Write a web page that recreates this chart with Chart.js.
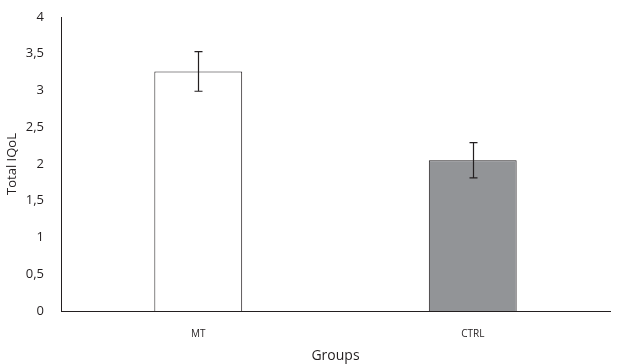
<!DOCTYPE html>
<html>
<head>
<meta charset="utf-8">
<script src="https://cdn.jsdelivr.net/npm/chart.js@4"></script>
<style>
  html, body { margin: 0; padding: 0; background: #fff; }
  #wrap { width: 631px; height: 364px; }
</style>
</head>
<body>
<div id="wrap"><canvas id="qolChart" width="631" height="364"></canvas></div>
<script>
const groups = ["MT", "CTRL"];
const meanScores = [3.26, 2.05];
const errScores = [0.27, 0.24];
const yTicks = [0, 0.5, 1, 1.5, 2, 2.5, 3, 3.5, 4];

const ink = "#231f20";

// draws the +/- error whiskers on each bar
const errorBars = {
  id: "errorBars",
  afterDatasetsDraw(chart) {
    const ctx = chart.ctx;
    const meta = chart.getDatasetMeta(0);
    const y = chart.scales.y;
    ctx.save();
    ctx.strokeStyle = ink;
    ctx.lineWidth = 1.2;
    meta.data.forEach((bar, i) => {
      const x = Math.round(bar.x) + 0.5;
      const top = y.getPixelForValue(meanScores[i] + errScores[i]);
      const bot = y.getPixelForValue(meanScores[i] - errScores[i]);
      ctx.beginPath();
      ctx.moveTo(x, top);
      ctx.lineTo(x, bot);
      ctx.moveTo(x - 4, top);
      ctx.lineTo(x + 4, top);
      ctx.moveTo(x - 4, bot);
      ctx.lineTo(x + 4, bot);
      ctx.stroke();
    });
    ctx.restore();
  }
};

new Chart(document.getElementById("qolChart").getContext("2d"), {
  type: "bar",
  data: {
    labels: groups,
    datasets: [
      {
        data: meanScores,
        backgroundColor: ["#ffffff", "#929497"],
        borderColor: ink,
        borderWidth: 1,
        barPercentage: 0.32,
        categoryPercentage: 1,
      },
    ],
  },
  options: {
    responsive: false,
    animation: false,
    layout: { padding: { top: 17, right: 21, left: 0, bottom: 0 } },
    plugins: {
      legend: { display: false },
      tooltip: { enabled: false },
    },
    scales: {
      x: {
        grid: { display: false, drawTicks: false },
        border: { color: ink, width: 1 },
        ticks: {
          color: ink,
          font: { family: "Open Sans", size: 10 },
          padding: 17,
        },
        title: {
          display: true,
          text: "Groups",
          color: ink,
          font: { family: "Open Sans", size: 14 },
          padding: { top: 4, bottom: 0 },
        },
        afterFit: (scale) => {
          scale.height = 53;
          scale.paddingLeft = 0;
          scale.paddingRight = 0;
        },
      },
      y: {
        min: 0,
        max: 4,
        afterBuildTicks: (scale) => {
          scale.ticks = yTicks.map((v) => ({ value: v }));
        },
        grid: { display: false, drawTicks: false },
        border: { color: ink, width: 1 },
        ticks: {
          color: ink,
          font: { family: "Open Sans", size: 13 },
          padding: 17,
          callback: (v) => String(v).replace(".", ","),
        },
        title: {
          display: true,
          text: "Total IQoL",
          color: ink,
          font: { family: "Open Sans", size: 13 },
          padding: { top: 4, bottom: 0 },
        },
        afterFit: (scale) => {
          scale.width = 61;
          scale.paddingTop = 0;
          scale.paddingBottom = 0;
        },
      },
    },
  },
  plugins: [errorBars],
});
</script>
</body>
</html>
